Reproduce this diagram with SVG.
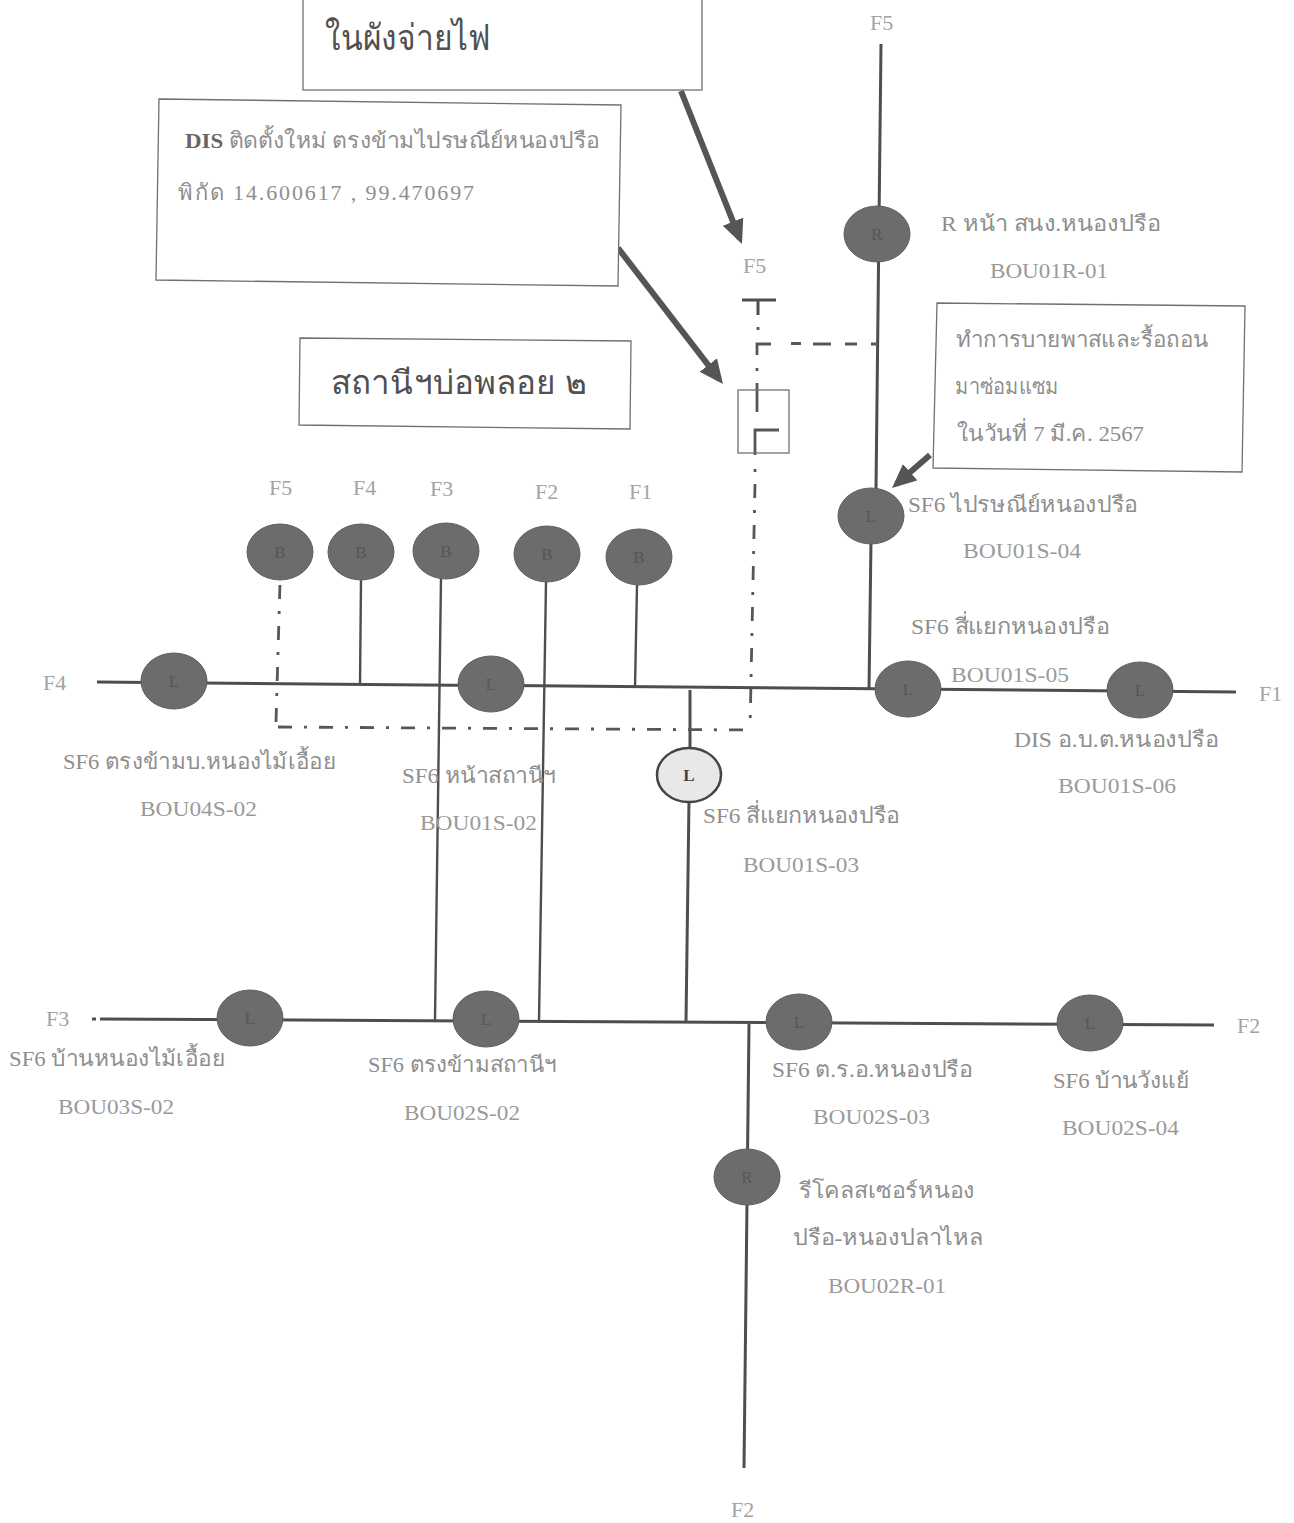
<svg xmlns="http://www.w3.org/2000/svg" width="1294" height="1523" viewBox="0 0 1294 1523">
<style>
text{font-family:"Liberation Serif","Noto Sans","DejaVu Sans",serif;font-size:22px;fill:#8e8e8e}
.f{fill:#a3a3a3}
.b{fill:#9a9a9a}
.big{font-family:"Liberation Sans","Noto Sans","DejaVu Sans",sans-serif;font-size:36px;fill:#505050}
.box{fill:#fff;stroke:#707070;stroke-width:1.3}
.n{fill:#6c6c6c;stroke:#5e5e5e;stroke-width:1}
.c{font-size:17px;fill:#565656;text-anchor:middle}
.w{fill:none;stroke:#4e4e4e;stroke-width:3}
.t{stroke-width:2.4}
.dd{fill:none;stroke:#575757;stroke-width:2.8;stroke-dasharray:14 12 3 12}
.s{fill:none;stroke:#575757;stroke-width:2.8}
.ar{fill:none;stroke:#555;stroke-width:6}
</style>
<defs><marker id="a" markerUnits="userSpaceOnUse" markerWidth="26" markerHeight="24" refX="18" refY="11" orient="auto"><path d="M0 0L24 11L0 22Z" fill="#555"/></marker></defs>
<rect width="1294" height="1523" fill="#fff"/>
<g id="connectors">
<path class="w" d="M881 44L876 490M871 540L869 690"/>
<path class="w" d="M97 682L1236 692"/>
<path class="w" d="M92 1019H96M100 1019L1214 1025"/>
<path class="w t" d="M361 580L360 685M441 578L435 1020M546 582L539 1021M637 585L635 688"/>
<path class="w" d="M690 690L690 750M689 800L686 1022M749 1024L744 1468"/>
<path class="w" d="M742 300H776M758 300V315"/>
<path class="s" d="M757 355V344H771M791 343.5H801M813 344H831M845 344H857M871 344H876"/>
<path class="s" d="M758 327V330M757 368V371M757 383V412M755 455V430H779M755 469V472"/>
<path class="dd" d="M755 484L750 730"/>
<path class="dd" d="M278 727L750 730"/>
<path class="dd" d="M276 722L280 583"/>
<path class="ar" marker-end="url(#a)" d="M681 91L739.7 238.4"/>
<path class="ar" marker-end="url(#a)" d="M618 248L719.3 379.3"/>
<path class="ar" marker-end="url(#a)" d="M930 455L896.6 484"/>
</g>
<g id="box-top"><rect class="box" x="303" y="-10" width="399" height="100"/><text class="big" x="325" y="50" textLength="165" lengthAdjust="spacingAndGlyphs">ในผังจ่ายไฟ</text></g>
<g id="box-dis"><path class="box" d="M159 99L621 105L618 286L156 280Z"/><text x="185" y="148" textLength="415" lengthAdjust="spacingAndGlyphs"><tspan style="fill:#666;font-weight:bold">DIS </tspan>ติดตั้งใหม่ ตรงข้ามไปรษณีย์หนองปรือ</text><text x="178" y="200" textLength="296" lengthAdjust="spacing">พิกัด 14.600617 , 99.470697</text></g>
<g id="box-station"><path class="box" d="M300 338L631 341L630 429L299 425Z"/><text class="big" x="331" y="394" style="font-size:33px" textLength="256" lengthAdjust="spacingAndGlyphs">สถานีฯบ่อพลอย ๒</text></g>
<g id="box-note"><path class="box" d="M937 303L1245 306L1242 472L933 468Z"/><text x="956" y="347" textLength="252" lengthAdjust="spacingAndGlyphs">ทำการบายพาสและรื้อถอน</text><text x="955" y="394" textLength="104" lengthAdjust="spacingAndGlyphs">มาซ่อมแซม</text><text x="957" y="441" textLength="187" lengthAdjust="spacingAndGlyphs">ในวันที่ 7 มี.ค. 2567</text></g>
<g id="box-dis-new"><rect x="738" y="390" width="51" height="63" fill="none" stroke="#707070" stroke-width="1.3"/></g>
<g id="n-r1"><ellipse class="n" cx="877" cy="234" rx="33" ry="28"/><text class="c" x="877" y="240">R</text></g>
<g id="n-l4"><ellipse class="n" cx="871" cy="516" rx="33" ry="28"/><text class="c" x="871" y="522">L</text></g>
<g id="n-b5"><ellipse class="n" cx="280" cy="552" rx="33" ry="28"/><text class="c" x="280" y="558">B</text></g>
<g id="n-b4"><ellipse class="n" cx="361" cy="552" rx="33" ry="28"/><text class="c" x="361" y="558">B</text></g>
<g id="n-b3"><ellipse class="n" cx="446" cy="551" rx="33" ry="28"/><text class="c" x="446" y="557">B</text></g>
<g id="n-b2"><ellipse class="n" cx="547" cy="554" rx="33" ry="28"/><text class="c" x="547" y="560">B</text></g>
<g id="n-b1"><ellipse class="n" cx="639" cy="557" rx="33" ry="28"/><text class="c" x="639" y="563">B</text></g>
<g id="n-l-04s"><ellipse class="n" cx="174" cy="681" rx="33" ry="28"/><text class="c" x="174" y="687">L</text></g>
<g id="n-l-01s02"><ellipse class="n" cx="491" cy="684" rx="33" ry="28"/><text class="c" x="491" y="690">L</text></g>
<g id="n-l-01s05"><ellipse class="n" cx="908" cy="689" rx="33" ry="28"/><text class="c" x="908" y="695">L</text></g>
<g id="n-l-01s06"><ellipse class="n" cx="1140" cy="690" rx="33" ry="28"/><text class="c" x="1140" y="696">L</text></g>
<g id="n-l-01s03"><ellipse cx="689" cy="775" rx="32" ry="27" fill="#e8e8e8" stroke="#444" stroke-width="2.5"/><text class="c" x="689" y="781" style="fill:#444;font-weight:bold">L</text></g>
<g id="n-l-03s"><ellipse class="n" cx="250" cy="1018" rx="33" ry="28"/><text class="c" x="250" y="1024">L</text></g>
<g id="n-l-02s02"><ellipse class="n" cx="486" cy="1019" rx="33" ry="28"/><text class="c" x="486" y="1025">L</text></g>
<g id="n-l-02s03"><ellipse class="n" cx="799" cy="1022" rx="33" ry="28"/><text class="c" x="799" y="1028">L</text></g>
<g id="n-l-02s04"><ellipse class="n" cx="1090" cy="1023" rx="33" ry="28"/><text class="c" x="1090" y="1029">L</text></g>
<g id="n-r2"><ellipse class="n" cx="747" cy="1177" rx="33" ry="28"/><text class="c" x="747" y="1183">R</text></g>
<g id="labels">
<text class="f" x="870" y="30">F5</text><text class="f" x="743" y="273">F5</text>
<text class="f" x="269" y="495">F5</text><text class="f" x="353" y="495">F4</text><text class="f" x="430" y="496">F3</text><text class="f" x="535" y="499">F2</text><text class="f" x="629" y="499">F1</text>
<text class="f" x="43" y="690">F4</text><text class="f" x="1259" y="701">F1</text><text class="f" x="46" y="1026">F3</text><text class="f" x="1237" y="1033">F2</text><text class="f" x="731" y="1517">F2</text>
<text x="941" y="231" textLength="220" lengthAdjust="spacingAndGlyphs">R หน้า สนง.หนองปรือ</text><text class="b" x="990" y="278" textLength="118" lengthAdjust="spacingAndGlyphs">BOU01R-01</text>
<text x="908" y="512" textLength="230" lengthAdjust="spacingAndGlyphs">SF6 ไปรษณีย์หนองปรือ</text><text class="b" x="963" y="558" textLength="118" lengthAdjust="spacingAndGlyphs">BOU01S-04</text>
<text x="911" y="634" textLength="199" lengthAdjust="spacingAndGlyphs">SF6 สี่แยกหนองปรือ</text><text class="b" x="951" y="682" textLength="118" lengthAdjust="spacingAndGlyphs">BOU01S-05</text>
<text x="1014" y="747" textLength="205" lengthAdjust="spacingAndGlyphs">DIS อ.บ.ต.หนองปรือ</text><text class="b" x="1058" y="793" textLength="118" lengthAdjust="spacingAndGlyphs">BOU01S-06</text>
<text x="63" y="769" textLength="273" lengthAdjust="spacingAndGlyphs">SF6 ตรงข้ามบ.หนองไม้เอื้อย</text><text class="b" x="140" y="816" textLength="117" lengthAdjust="spacingAndGlyphs">BOU04S-02</text>
<text x="402" y="783" textLength="154" lengthAdjust="spacingAndGlyphs">SF6 หน้าสถานีฯ</text><text class="b" x="420" y="830" textLength="117" lengthAdjust="spacingAndGlyphs">BOU01S-02</text>
<text x="703" y="823" textLength="197" lengthAdjust="spacingAndGlyphs">SF6 สี่แยกหนองปรือ</text><text class="b" x="743" y="872" textLength="116" lengthAdjust="spacingAndGlyphs">BOU01S-03</text>
<text x="9" y="1066" textLength="216" lengthAdjust="spacingAndGlyphs">SF6 บ้านหนองไม้เอื้อย</text><text class="b" x="58" y="1114" textLength="116" lengthAdjust="spacingAndGlyphs">BOU03S-02</text>
<text x="368" y="1072" textLength="188" lengthAdjust="spacingAndGlyphs">SF6 ตรงข้ามสถานีฯ</text><text class="b" x="404" y="1120" textLength="116" lengthAdjust="spacingAndGlyphs">BOU02S-02</text>
<text x="772" y="1077" textLength="201" lengthAdjust="spacingAndGlyphs">SF6 ต.ร.อ.หนองปรือ</text><text class="b" x="813" y="1124" textLength="117" lengthAdjust="spacingAndGlyphs">BOU02S-03</text>
<text x="1053" y="1088" textLength="136" lengthAdjust="spacingAndGlyphs">SF6 บ้านวังแย้</text><text class="b" x="1062" y="1135" textLength="117" lengthAdjust="spacingAndGlyphs">BOU02S-04</text>
<text x="799" y="1198" textLength="176" lengthAdjust="spacingAndGlyphs">รีโคลสเซอร์หนอง</text><text x="793" y="1245" textLength="190" lengthAdjust="spacingAndGlyphs">ปรือ-หนองปลาไหล</text><text class="b" x="828" y="1293" textLength="118" lengthAdjust="spacingAndGlyphs">BOU02R-01</text>
</g>
</svg>
